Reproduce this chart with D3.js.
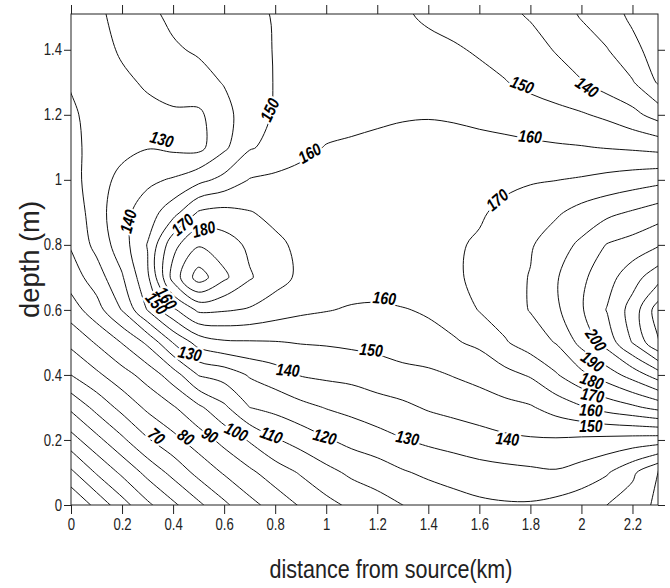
<!DOCTYPE html>
<html>
<head>
<meta charset="utf-8">
<script src="https://cdn.jsdelivr.net/npm/d3@7"></script>
<style>
  body { margin: 0; background: #fff; }
  svg { display: block; }
  .axis text { font-family: "Liberation Sans", Arial, sans-serif; font-size: 16px; fill: #222; }
  .axis line { stroke: #222; }
  .clabel { font-family: "Liberation Sans", Arial, sans-serif; font-weight: bold; font-style: italic; font-size: 17px; }
  .title { font-family: "Liberation Sans", Arial, sans-serif; fill: #222; }
</style>
</head>
<body>
<div id="container"></div>
<script>
// grid positions (km, m)
const gridX = [0, 0.1, 0.2, 0.3, 0.4, 0.5, 0.6, 0.7, 0.8, 0.9, 1.0, 1.1, 1.2, 1.3, 1.4, 1.5, 1.6, 1.7, 1.8, 1.9, 2.0, 2.1, 2.2, 2.3];
const gridY = [0, 0.1, 0.2, 0.3, 0.4, 0.5, 0.6, 0.7, 0.8, 0.9, 1.0, 1.1, 1.2, 1.3, 1.4, 1.5, 1.6];

// values, one row per depth
const row00 = [0, 13, 26, 38, 48, 58, 68, 77, 84, 91, 97, 102, 106, 110, 113, 116, 118, 119, 119, 117, 114, 110, 105, 98];
const row01 = [18, 31, 42, 53, 63, 73, 81, 88, 95, 101, 107, 112, 115, 119, 122, 124, 126, 127, 128, 129, 126, 121, 112, 100];
const row02 = [36, 47, 58, 69, 77, 85, 93, 101, 109, 114, 119, 123, 126, 129.5, 132, 134, 136, 138, 139, 139, 138, 137, 136, 135];
const row03 = [52, 63, 73, 82, 89, 98, 108, 120, 123, 127, 130.5, 133, 136, 138, 141, 143, 145, 147, 149, 154, 159, 164, 168, 173];
const row04 = [70, 78, 86, 94, 105, 120.5, 124, 131, 135.5, 140.5, 142, 143, 145, 147, 148, 150.5, 153, 157, 161, 169, 177.5, 185, 194, 205];
const row05 = [82.5, 91, 100.5, 112, 130.5, 144, 148.5, 149, 149.5, 150.5, 151, 152, 153, 155, 157, 159, 162, 169, 175, 180.5, 193, 204, 220.5, 239];
const row06 = [95, 106, 120.5, 140.5, 158, 172, 171, 169, 165, 162, 160.5, 159, 158.5, 159.5, 161, 164, 170.5, 175, 180.5, 188, 199, 210.5, 224, 245];
const row07 = [105, 115, 129, 148, 184, 205, 192, 181, 174, 168, 166, 165, 165, 165.5, 167, 169, 171.5, 176, 180.5, 189, 198, 206, 216, 226];
const row08 = [111, 123, 135.5, 150.5, 177, 189, 185, 178, 172, 168, 166, 166, 166, 166.5, 167.5, 169, 171, 175, 179, 185.5, 192, 200.5, 204, 209];
const row09 = [113, 125.5, 137, 145, 156, 171, 173, 170.5, 167.5, 165, 165, 165.5, 166, 166, 167, 168, 169, 172, 175.5, 178.5, 183.5, 187.5, 191, 195];
const row10 = [115, 127, 132, 138, 141, 147, 153, 160.5, 162, 163.5, 164, 164.5, 165, 165.5, 166, 166.5, 167, 168, 169, 169.8, 171, 173, 175, 177];
const row11 = [117, 124, 128, 129.5, 128, 127, 138, 149, 153, 157, 160.5, 161.5, 162, 162.5, 163, 163, 162.5, 162, 161.5, 161, 160.5, 159.5, 158.5, 157];
const row12 = [118, 124.5, 127, 128, 128.5, 128, 137, 145, 151, 153.5, 155.5, 157, 158.5, 159.3, 159.5, 159, 158, 157, 155.5, 153.5, 151, 148, 143, 136];
const row13 = [121, 125, 128.5, 131, 134.3, 137, 140.5, 145, 150.5, 152, 153.5, 154.5, 155, 155.5, 155, 154, 152.5, 150.5, 147, 143.5, 140.5, 135.5, 130.8, 119];
const row14 = [123, 127, 131, 136, 139, 141, 143, 146.5, 150.5, 152, 153, 153.5, 153.5, 153, 152, 151, 149, 146, 143, 139.5, 135, 130.5, 122.5, 116];
const row15 = [124, 128, 133, 138, 141.5, 144, 146, 148, 150.5, 151.5, 152.5, 152.5, 152, 151, 149, 147, 145, 142, 139.5, 134.5, 129.5, 124, 118.5, 114];
const row16 = [125, 129, 135, 140.5, 143.5, 146, 148, 149.5, 151, 152, 152.5, 152, 151, 149.5, 147, 144.5, 142, 139, 136, 131, 126, 121, 116, 112];
const fieldRows = [row00, row01, row02, row03, row04, row05, row06, row07, row08, row09, row10, row11, row12, row13, row14, row15, row16];

const levels = [10, 20, 30, 40, 50, 60, 70, 80, 90, 100, 110, 120, 130, 140, 150, 160, 170, 180, 190, 200, 210, 220, 230, 240];

const xTicks = [0, 0.2, 0.4, 0.6, 0.8, 1, 1.2, 1.4, 1.6, 1.8, 2, 2.2];
const yTicks = [0, 0.2, 0.4, 0.6, 0.8, 1, 1.2, 1.4];

// contour labels
const labelText  = ['130', '150', '160', '150', '140', '160', '170', '140', '170', '180', '150', '160', '160', '150', '130', '140',
                    '200', '190', '180', '170', '160', '150', '140', '130', '120', '110', '100', '90', '80', '70'];
const labelX     = [0.356, 0.779, 0.935, 1.768, 2.022, 1.799, 1.670, 0.224, 0.437, 0.520, 0.335, 0.374, 1.228, 1.176, 0.466, 0.850,
                    2.057, 2.043, 2.041, 2.043, 2.037, 2.037, 1.710, 1.318, 0.994, 0.785, 0.648, 0.544, 0.450, 0.335];
const labelY     = [1.125, 1.215, 1.082, 1.292, 1.285, 1.133, 0.938, 0.872, 0.862, 0.848, 0.620, 0.636, 0.636, 0.477, 0.466, 0.415,
                    0.508, 0.441, 0.382, 0.338, 0.292, 0.244, 0.203, 0.206, 0.210, 0.215, 0.225, 0.215, 0.209, 0.212];
const labelAngle = [15, -65, -30, 20, 35, 5, -40, -75, -40, -15, 50, 55, 5, 5, 12, 5,
                    55, 35, 18, 10, 3, 0, 5, 10, 15, 20, 25, 30, 35, 40];

const W = 670, H = 588;
const narrow = 0.82; // the original type is a condensed face
const x = d3.scaleLinear().domain([0, 2.3]).range([71, 658]);
const y = d3.scaleLinear().domain([0, 1.51]).range([505, 14]);

const svg = d3.select('#container').append('svg')
  .attr('width', W)
  .attr('height', H);

svg.append('defs').append('clipPath').attr('id', 'plot-clip')
  .append('rect')
  .attr('x', x(0)).attr('y', y(1.51))
  .attr('width', x(2.3) - x(0)).attr('height', y(0) - y(1.51));

// contours
const nx = gridX.length, ny = gridY.length;
const values = [].concat(...fieldRows);
const contours = d3.contours().size([nx, ny]).thresholds(levels)(values);

const stepX = gridX[1] - gridX[0], stepY = gridY[1] - gridY[0];
const toScreen = p => [x(gridX[0] + (p[0] - 0.5) * stepX), y(gridY[0] + (p[1] - 0.5) * stepY)];
const onBorder = p => p[0] <= 0 || p[0] >= nx || p[1] <= 0 || p[1] >= ny;

function splitRing(ring) {
  const pts = ring.slice(0, ring.length - 1);
  const first = pts.findIndex(onBorder);
  if (first < 0) return [{ closed: true, pts: pts }];
  const rot = pts.slice(first).concat(pts.slice(0, first));
  const runs = [];
  let cur = [];
  for (let i = 1; i <= rot.length; i++) {
    const p = rot[i % rot.length];
    if (onBorder(p)) {
      if (cur.length >= 2) runs.push(cur);
      cur = [];
    } else {
      cur.push(p);
    }
  }
  return runs.map(r => ({ closed: false, pts: r }));
}

const lineOpen = d3.line().curve(d3.curveCatmullRom.alpha(0.5));
const lineClosed = d3.line().curve(d3.curveCatmullRomClosed.alpha(0.5));

const g = svg.append('g').attr('clip-path', 'url(#plot-clip)');
contours.forEach(c => {
  c.coordinates.forEach(poly => {
    poly.forEach(ring => {
      splitRing(ring).forEach(run => {
        let pts = run.pts.map(toScreen);
        if (!run.closed) {
          // push the ends a little past the plot edge
          const a = pts[0], b = pts[1];
          const m = pts[pts.length - 1], n = pts[pts.length - 2];
          pts.unshift([a[0] + (a[0] - b[0]) * 0.3, a[1] + (a[1] - b[1]) * 0.3]);
          pts.push([m[0] + (m[0] - n[0]) * 0.3, m[1] + (m[1] - n[1]) * 0.3]);
        }
        g.append('path')
          .attr('d', run.closed ? lineClosed(pts) : lineOpen(pts))
          .attr('fill', 'none')
          .attr('stroke', '#111')
          .attr('stroke-width', 1);
      });
    });
  });
});

// labels: halo pass, then text pass
const lab = svg.append('g');
[true, false].forEach(halo => {
  labelText.forEach((t, i) => {
    const tx = lab.append('text')
      .attr('class', 'clabel')
      .attr('text-anchor', 'middle')
      .attr('dy', '0.35em')
      .attr('transform', `translate(${x(labelX[i])},${y(labelY[i])}) rotate(${labelAngle[i]}) scale(${narrow},1)`)
      .text(t);
    if (halo) tx.attr('fill', '#fff').attr('stroke', '#fff').attr('stroke-width', 5);
    else tx.attr('fill', '#000');
  });
});

// axes
svg.append('g').attr('class', 'axis')
  .attr('transform', `translate(0,${y(0)})`)
  .call(d3.axisBottom(x).tickValues(xTicks).tickSize(9).tickPadding(5).tickFormat(d => String(d)))
  .call(a => a.select('.domain').remove())
  .call(a => a.selectAll('text').attr('transform', `scale(${narrow},1)`));
svg.append('g').attr('class', 'axis')
  .attr('transform', `translate(0,${y(1.51)})`)
  .call(d3.axisTop(x).tickValues(xTicks).tickSize(9).tickFormat(''))
  .call(a => a.select('.domain').remove());
svg.append('g').attr('class', 'axis')
  .attr('transform', `translate(${x(0)},0)`)
  .call(d3.axisLeft(y).tickValues(yTicks).tickSize(7).tickPadding(2).tickFormat(d => String(d)))
  .call(a => a.select('.domain').remove())
  .call(a => a.selectAll('text').attr('x', -9 / narrow).attr('transform', `scale(${narrow},1)`));
svg.append('g').attr('class', 'axis')
  .attr('transform', `translate(${x(2.3)},0)`)
  .call(d3.axisRight(y).tickValues(yTicks).tickSize(7).tickFormat(''))
  .call(a => a.select('.domain').remove());

svg.append('rect')
  .attr('x', x(0)).attr('y', y(1.51))
  .attr('width', x(2.3) - x(0)).attr('height', y(0) - y(1.51))
  .attr('fill', 'none').attr('stroke', '#222').attr('stroke-width', 1);

// titles
svg.append('text').attr('class', 'title')
  .attr('x', 391).attr('y', 578)
  .attr('text-anchor', 'middle')
  .attr('textLength', 243)
  .attr('lengthAdjust', 'spacingAndGlyphs')
  .style('font-size', '26px')
  .text('distance from source(km)');
svg.append('text').attr('class', 'title')
  .attr('transform', `translate(39,${(y(0) + y(1.51)) / 2}) rotate(-90)`)
  .attr('text-anchor', 'middle')
  .attr('textLength', 117)
  .attr('lengthAdjust', 'spacingAndGlyphs')
  .style('font-size', '28px')
  .text('depth (m)');
</script>
</body>
</html>
